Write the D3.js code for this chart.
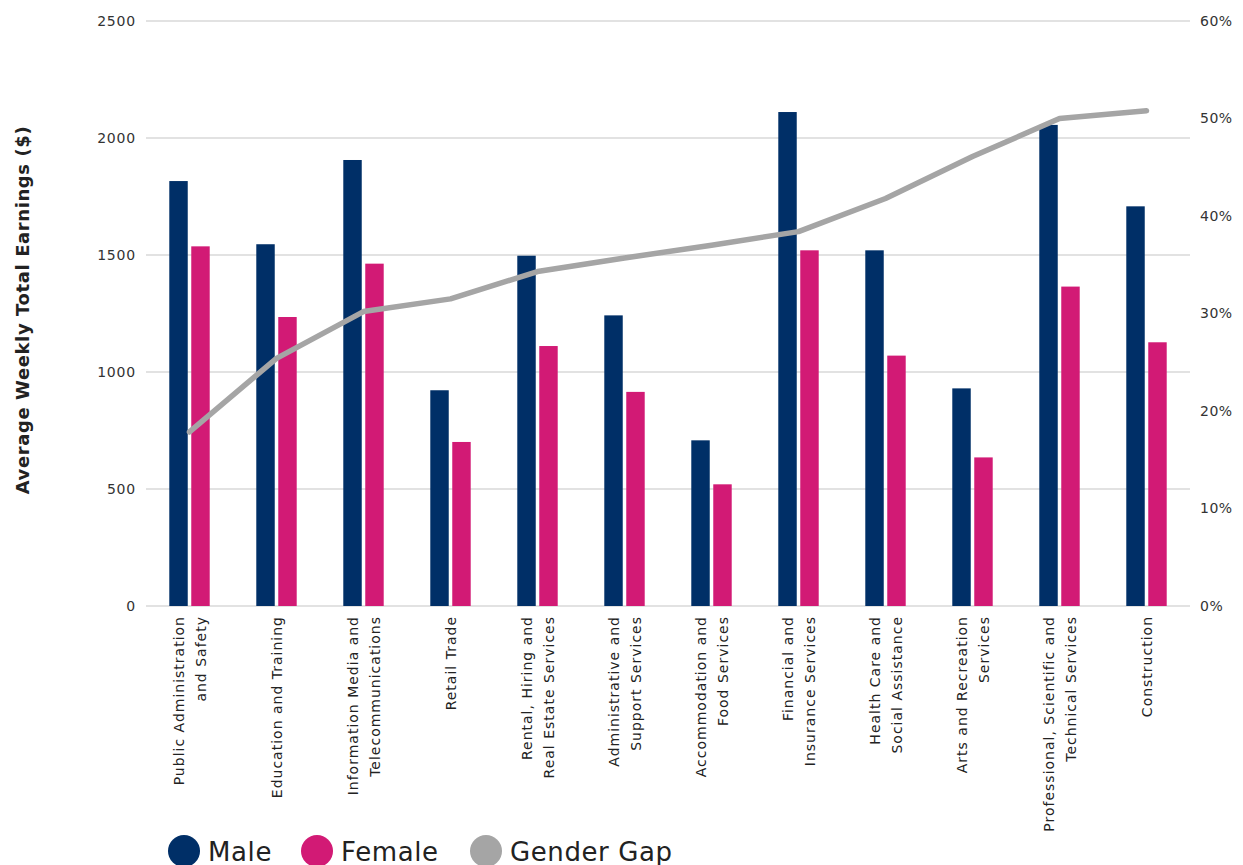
<!DOCTYPE html>
<html><head><meta charset="utf-8">
<script src="https://cdn.jsdelivr.net/npm/d3@7"></script>
<style>
body{margin:0;background:#fff;}
svg{display:block;font-family:"DejaVu Sans","Noto Sans",sans-serif;}
</style></head>
<body><svg id="c" width="1243" height="865"></svg>
<script>
const categories = [
  ["Public Administration","and Safety"],
  ["Education and Training"],
  ["Information Media and","Telecommunications"],
  ["Retail Trade"],
  ["Rental, Hiring and","Real Estate Services"],
  ["Administrative and","Support Services"],
  ["Accommodation and","Food Services"],
  ["Financial and","Insurance Services"],
  ["Health Care and","Social Assistance"],
  ["Arts and Recreation","Services"],
  ["Professional, Scientific and","Technical Services"],
  ["Construction"]
];
const maleValues   = [1816,1546,1906,922,1497,1242,708,2111,1520,930,2056,1708];
const femaleValues = [1537,1235,1463,701,1111,915,520,1520,1070,635,1365,1127];
const genderGap    = [17.85,25.4,30.2,31.5,34.3,35.7,37.0,38.4,41.8,46.1,50.0,50.8];
const leftTicks  = [0,500,1000,1500,2000,2500];
const rightTicks = [0,10,20,30,40,50,60];
const seriesNames = ["Male","Female","Gender Gap"];
const colors = ["#002F67","#D21A75","#A5A5A5"];

const svg = d3.select("#c");
const L=146, R=1190, T=21, B=606;
const x = d3.scaleBand().domain(d3.range(categories.length)).range([L,R]);
const y = d3.scaleLinear().domain([0,2500]).range([B,T]);
const y2 = d3.scaleLinear().domain([0,60]).range([B,T]);

// gridlines
svg.append("g").selectAll("line").data(leftTicks).join("line")
  .attr("x1",L).attr("x2",R).attr("y1",d=>y(d)).attr("y2",d=>y(d))
  .attr("stroke","#d9d9d9").attr("stroke-width",1.5);

// left axis
const ga = svg.append("g").attr("transform",`translate(${L},0)`)
  .call(d3.axisLeft(y).tickValues(leftTicks).tickSize(0).tickPadding(10).tickFormat(d3.format("d")));
ga.select(".domain").remove();
ga.selectAll("text").attr("font-size",14).attr("fill","#333").attr("font-family","DejaVu Sans").attr("letter-spacing",0.8);

const gb = svg.append("g").attr("transform",`translate(${R},0)`)
  .call(d3.axisRight(y2).tickValues(rightTicks).tickSize(0).tickPadding(10).tickFormat(d=>d+"%"));
gb.select(".domain").remove();
gb.selectAll("text").attr("font-size",14).attr("fill","#333").attr("font-family","DejaVu Sans").attr("letter-spacing",0.5);

// bars
const inner = d3.scaleBand().domain([0,1]).range([0,x.bandwidth()]).paddingInner(0.16).paddingOuter(1.06);
const bw = inner.bandwidth();
svg.append("g").selectAll("rect").data(maleValues).join("rect")
  .attr("x",(d,i)=>x(i)+inner(0)).attr("width",bw)
  .attr("y",d=>y(d)).attr("height",d=>B-y(d)).attr("fill",colors[0]);
svg.append("g").selectAll("rect").data(femaleValues).join("rect")
  .attr("x",(d,i)=>x(i)+inner(1)).attr("width",bw)
  .attr("y",d=>y(d)).attr("height",d=>B-y(d)).attr("fill",colors[1]);

// line
const line = d3.line().x((d,i)=>x(i)+x.bandwidth()/2).y(d=>y2(d));
svg.append("path").datum(genderGap).attr("d",line).attr("fill","none")
  .attr("stroke",colors[2]).attr("stroke-width",5.5).attr("stroke-linecap","round").attr("stroke-linejoin","round");

// x labels
const xl = svg.append("g");
categories.forEach((lines,i)=>{
  const cx = x(i)+x.bandwidth()/2;
  const n = lines.length;
  lines.forEach((t,j)=>{
    const off = (j-(n-1)/2)*22;
    xl.append("text").attr("transform",`translate(${cx+off+5},616) rotate(-90)`)
      .attr("text-anchor","end").attr("font-size",14).attr("letter-spacing",1)
      .attr("fill","#222").text(t);
  });
});

// y title
svg.append("text").attr("transform","translate(29,310) rotate(-90)").attr("text-anchor","middle")
  .attr("font-size",18).attr("letter-spacing",0.6).attr("font-weight","bold").attr("fill","#222")
  .text("Average Weekly Total Earnings ($)");

// legend
const lg = svg.append("g");
const legX = [184,317,486];
seriesNames.forEach((s,i)=>{
  lg.append("circle").attr("cx",legX[i]).attr("cy",851).attr("r",16).attr("fill",colors[i]);
  lg.append("text").attr("x",legX[i]+24).attr("y",861).attr("font-size",26).attr("letter-spacing",0.6)
    .attr("fill","#222").text(s);
});
</script></body></html>
